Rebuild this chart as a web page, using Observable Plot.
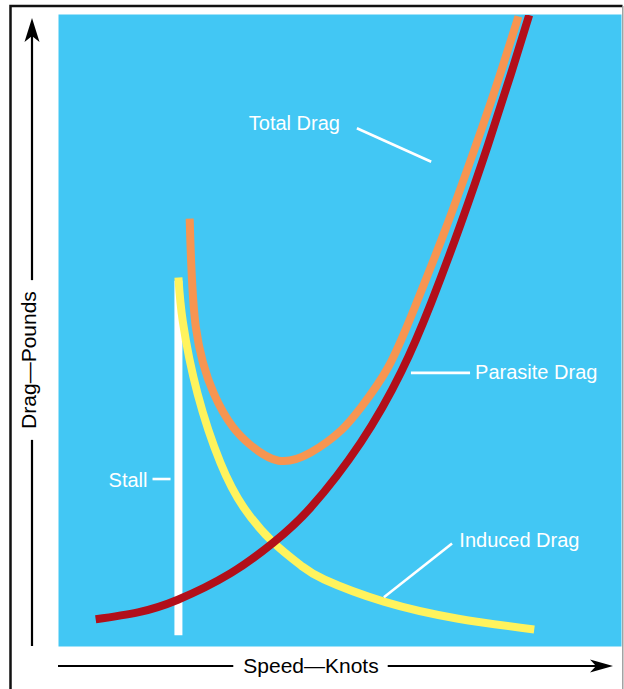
<!DOCTYPE html>
<html>
<head>
<meta charset="utf-8">
<script src="https://cdn.jsdelivr.net/npm/d3@7"></script>
<script src="https://cdn.jsdelivr.net/npm/@observablehq/plot@0.6"></script>
<style>
  html, body { margin: 0; padding: 0; background: #ffffff; }
  svg { display: block; }
</style>
</head>
<body>
<div id="chart"></div>
<script>
// ---- Data (arbitrary units: speed 0–100, drag 0–100) ----
const parasiteSpeed = [6.6, 14.1, 21.2, 30.6, 38.1, 44.8, 53.7, 60.9, 66.2, 71.5, 76.3, 80.4, 83.6];
const parasiteDrag  = [4.3, 5.4, 7.4, 11.6, 16.4, 22.0, 32.3, 43.5, 54.4, 67.0, 79.4, 90.7, 99.9];

const totalSpeed = [23.3, 24.4, 27.6, 31.0, 34.2, 39.1, 44.8, 50.2, 53.7, 58.5, 63.2, 68.6, 73.7, 77.8, 81.7];
const totalDrag  = [67.7, 50.5, 40.0, 34.7, 31.8, 29.4, 30.7, 34.2, 37.8, 44.1, 53.5, 65.7, 78.2, 88.8, 99.7];

const inducedSpeed = [21.3, 22.1, 24.7, 28.8, 32.9, 38.1, 43.1, 47.2, 57.8, 71.0, 84.5];
const inducedDrag  = [58.4, 51.3, 40.0, 29.0, 22.0, 16.5, 12.8, 10.6, 7.1, 4.4, 2.7];

const stallSpeed = [21.3];
const stallDragLow = [1.7];
const stallDragHigh = [57.8];

const labelNames  = ["Total Drag", "Parasite Drag", "Induced Drag", "Stall"];
const labelSpeed  = [33.8, 74.0, 71.2, 15.8];
const labelDrag   = [82.7, 43.4, 16.8, 26.3];
const labelAnchor = ["start", "start", "start", "end"];

const leaderSpeed1 = [53.0, 62.6, 57.8, 16.7];
const leaderDrag1  = [82.0, 43.3, 7.8, 26.5];
const leaderSpeed2 = [66.2, 73.1, 69.9, 19.9];
const leaderDrag2  = [76.7, 43.3, 16.3, 26.5];

const xAxisLabel = "Speed—Knots";
const yAxisLabel = "Drag—Pounds";

// ---- Styles ----
const BLUE = "#42c7f4";
const RED = "#b20f1a";
const ORANGE = "#f79551";
const YELLOW = "#fff35d";
const FONT = "'Liberation Sans', Arial, Helvetica, sans-serif";

const toRows = (xs, ys) => xs.map((x, i) => ({speed: x, drag: ys[i]}));
const parasite = toRows(parasiteSpeed, parasiteDrag);
const total = toRows(totalSpeed, totalDrag);
const induced = toRows(inducedSpeed, inducedDrag);
const stall = stallSpeed.map((s, i) => ({speed: s, lo: stallDragLow[i], hi: stallDragHigh[i]}));
const labels = labelNames.map((t, i) => ({text: t, speed: labelSpeed[i], drag: labelDrag[i], anchor: labelAnchor[i]}));
const leaders = leaderSpeed1.map((s, i) => ({x1: s, y1: leaderDrag1[i], x2: leaderSpeed2[i], y2: leaderDrag2[i]}));

const plot = Plot.plot({
  width: 624,
  height: 689,
  marginLeft: 58,
  marginRight: 3,
  marginTop: 14,
  marginBottom: 43,
  style: {fontFamily: FONT, background: "#ffffff", overflow: "visible"},
  x: {domain: [0, 100], axis: null},
  y: {domain: [0, 100], axis: null},
  marks: [
    Plot.frame({fill: BLUE, stroke: "none"}),
    Plot.ruleX(stall, {x: "speed", y1: "lo", y2: "hi", stroke: "#ffffff", strokeWidth: 8, strokeLinecap: "butt"}),
    Plot.line(induced, {x: "speed", y: "drag", stroke: YELLOW, strokeWidth: 8, curve: "natural", strokeLinecap: "butt"}),
    Plot.line(total, {x: "speed", y: "drag", stroke: ORANGE, strokeWidth: 8, curve: "natural", strokeLinecap: "butt"}),
    Plot.line(parasite, {x: "speed", y: "drag", stroke: RED, strokeWidth: 8, curve: "natural", strokeLinecap: "butt"}),
    Plot.link(leaders, {x1: "x1", y1: "y1", x2: "x2", y2: "y2", stroke: "#ffffff", strokeWidth: 2.6}),
    Plot.text(labels.filter(d => d.anchor === "start"), {x: "speed", y: "drag", text: "text", fill: "#ffffff", fontSize: 20, textAnchor: "start"}),
    Plot.text(labels.filter(d => d.anchor === "end"), {x: "speed", y: "drag", text: "text", fill: "#ffffff", fontSize: 20, textAnchor: "end"})
  ]
});

document.getElementById("chart").appendChild(plot);

// ---- Decorations: outer frame, axis arrows and axis titles ----
const svg = d3.select(plot);
const [xLeft, xRight] = plot.scale("x").range;
const [yBottom, yTop] = plot.scale("y").range;
const deco = svg.append("g");

// outer frame
deco.append("path").attr("d", `M10.5,${689 + 5} V6 H${xRight + 1.5}`)
  .attr("fill", "none").attr("stroke", "#111").attr("stroke-width", 2.5);
deco.append("line").attr("x1", xRight + 1.8).attr("x2", xRight + 1.8).attr("y1", 6).attr("y2", 689)
  .attr("stroke", "#9a9a9a").attr("stroke-width", 1.4);

// y axis
const yAxisX = 32;
const yTip = yTop + 4, yNotch = yTip + 18, yBase = yTip + 24;
const yText = deco.append("text")
  .attr("transform", `translate(${yAxisX + 4},360) rotate(-90)`)
  .attr("text-anchor", "middle").attr("font-size", 21).attr("font-family", FONT).attr("fill", "#000")
  .text(yAxisLabel);
const yLen = yText.node().getComputedTextLength();
deco.append("line").attr("x1", yAxisX).attr("x2", yAxisX).attr("y1", yBottom).attr("y2", 360 + yLen / 2 + 11)
  .attr("stroke", "#000").attr("stroke-width", 2.2);
deco.append("line").attr("x1", yAxisX).attr("x2", yAxisX).attr("y1", 360 - yLen / 2 - 11).attr("y2", yNotch)
  .attr("stroke", "#000").attr("stroke-width", 2.2);
deco.append("path")
  .attr("d", `M${yAxisX},${yTip} L${yAxisX + 7.5},${yBase} L${yAxisX},${yNotch} L${yAxisX - 7.5},${yBase} Z`)
  .attr("fill", "#000");

// x axis
const xAxisY = yBottom + 20;
const xTextX = 311;
const xTip = xRight - 8, xNotch = xTip - 17, xBase = xTip - 23;
const xText = deco.append("text")
  .attr("x", xTextX).attr("y", xAxisY + 6.5)
  .attr("text-anchor", "middle").attr("font-size", 21).attr("font-family", FONT).attr("fill", "#000")
  .text(xAxisLabel);
const xLen = xText.node().getComputedTextLength();
deco.append("line").attr("x1", xLeft).attr("x2", xTextX - xLen / 2 - 10).attr("y1", xAxisY).attr("y2", xAxisY)
  .attr("stroke", "#000").attr("stroke-width", 2.2);
deco.append("line").attr("x1", xTextX + xLen / 2 + 9).attr("x2", xNotch).attr("y1", xAxisY).attr("y2", xAxisY)
  .attr("stroke", "#000").attr("stroke-width", 2.2);
deco.append("path")
  .attr("d", `M${xTip},${xAxisY} L${xBase},${xAxisY - 6.5} L${xNotch},${xAxisY} L${xBase},${xAxisY + 6.5} Z`)
  .attr("fill", "#000");
</script>
</body>
</html>
